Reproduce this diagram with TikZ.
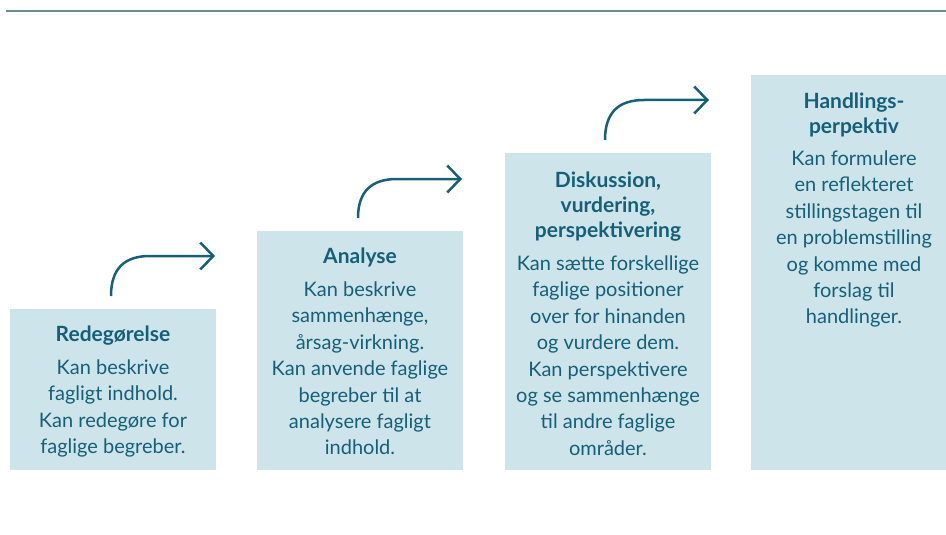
\documentclass[tikz,border=0pt]{standalone}
\usepackage{fontspec}
\setmainfont{Lato}
\usetikzlibrary{arrows.meta}
\definecolor{teal}{HTML}{155F78}
\definecolor{boxfill}{HTML}{CDE5EA}
\definecolor{rulecol}{HTML}{6A8B94}
\tikzset{
  stepbox/.style={fill=boxfill, draw=none},
  ttl/.style={anchor=north, inner sep=0pt, align=center, text=teal, font=\fontsize{21}{24.7}\selectfont\bfseries},
  bodytxt/.style={anchor=north, inner sep=0pt, align=center, text=teal, font=\fontsize{20}{26.4}\selectfont},
  stair/.style={draw=teal, line width=2.5pt, -{Straight Barb[length=13pt,width=27pt,line width=2.5pt]}}
}
\begin{document}
\begin{tikzpicture}[x=1pt,y=-1pt]
\useasboundingbox (0,0) rectangle (946,535);
\draw[rulecol, line width=2pt] (6,11.5) -- (946,11.5);
% boxes
\fill[stepbox] (10,309) rectangle (216,470);
\fill[stepbox] (257,231) rectangle (463,470);
\fill[stepbox] (505,153) rectangle (711,470);
\fill[stepbox] (751,75) rectangle (946,470);
% texts
\node[ttl] (t1) at (113,326) {Redegørelse};
\node[bodytxt] (b1) at (113,359.5) {Kan beskrive\\fagligt indhold.\\Kan redegøre for\\faglige begreber.};
\node[ttl] (t2) at (360,248) {Analyse};
\node[bodytxt] (b2) at (360,281.5) {Kan beskrive\\sammenhænge,\\årsag-virkning.\\Kan anvende faglige\\begreber til at\\analysere fagligt\\indhold.};
\node[ttl] (t3) at (608,172) {Diskussion,\\vurdering,\\perspektivering};
\node[bodytxt] (b3) at (608,255.5) {Kan sætte forskellige\\faglige positioner\\over for hinanden\\og vurdere dem.\\Kan perspektivere\\og se sammenhænge\\til andre faglige\\områder.};
\node[ttl] (t4) at (854,93) {Handlings-\\perpektiv};
\node[bodytxt] (b4) at (854,150.5) {Kan formulere\\en reflekteret\\stillingstagen til\\en problemstilling\\og komme med\\forslag til\\handlinger.};
% arrows
\coordinate (a1s) at (111,296); \coordinate (a1m) at (150,256); \coordinate (a1e) at (215,256);
\coordinate (a2s) at (358,218); \coordinate (a2m) at (397,179); \coordinate (a2e) at (462,179);
\coordinate (a3s) at (605,140); \coordinate (a3m) at (644,100); \coordinate (a3e) at (709,100);
\draw[stair] (a1s) .. controls (111,268) and (125,256) .. (a1m) -- (a1e);
\draw[stair] (a2s) .. controls (358,191) and (372,179) .. (a2m) -- (a2e);
\draw[stair] (a3s) .. controls (605,112) and (619,100) .. (a3m) -- (a3e);
\end{tikzpicture}
\end{document}
